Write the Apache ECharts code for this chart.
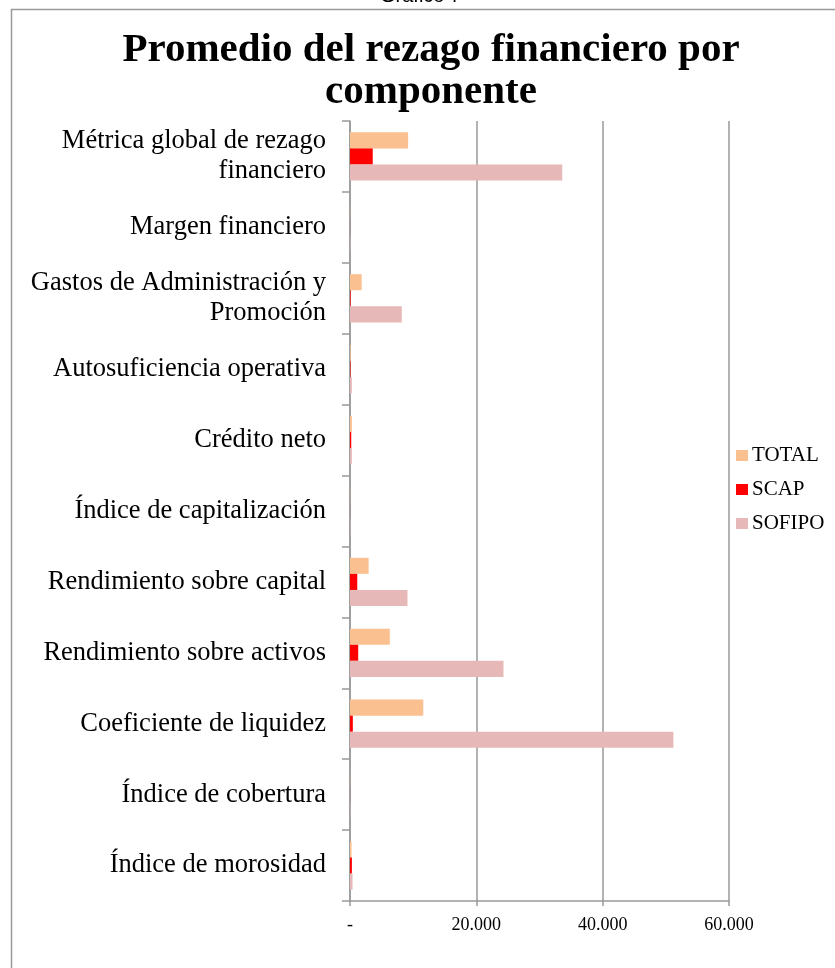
<!DOCTYPE html>
<html>
<head>
<meta charset="utf-8">
<script src="https://cdn.jsdelivr.net/npm/echarts@6/dist/echarts.min.js"></script>
<style>
html,body{margin:0;padding:0;background:#fff;}
#chart{width:835px;height:968px;}
</style>
</head>
<body>
<div id="chart"></div>
<script>
const categories = [
  "Métrica global de rezago\nfinanciero",
  "Margen financiero",
  "Gastos de Administración y\nPromoción",
  "Autosuficiencia operativa",
  "Crédito neto",
  "Índice de capitalización",
  "Rendimiento sobre capital",
  "Rendimiento sobre activos",
  "Coeficiente de liquidez",
  "Índice de cobertura",
  "Índice de morosidad"
];
const totalValues  = [9200, 20, 1850, 100, 300, 20, 2950, 6300, 11600, 20, 250];
const scapValues   = [3600, 10, 100, 80, 200, 10, 1150, 1300, 450, 10, 300];
const sofipoValues = [33600, 60, 8200, 300, 300, 50, 9100, 24300, 51200, 50, 400];
const xTicks = {0: "-", 20000: "20.000", 40000: "40.000", 60000: "60.000"};

const serif = "'Liberation Serif', 'DejaVu Serif', serif";
const chart = echarts.init(document.getElementById('chart'));
chart.setOption({
  backgroundColor: '#fff',
  animation: false,
  title: {
    text: 'Promedio del rezago financiero por\ncomponente',
    left: 426,
    textAlign: 'center',
    top: 24,
    textStyle: {fontFamily: serif, fontWeight: 'bold', fontSize: 41, lineHeight: 42, color: '#000'}
  },
  graphic: [
    {type: 'line', shape: {x1: 11, y1: 9.5, x2: 835, y2: 9.5}, style: {stroke: '#999', lineWidth: 1.5}},
    {type: 'line', shape: {x1: 11.5, y1: 9, x2: 11.5, y2: 968}, style: {stroke: '#999', lineWidth: 1.5}},
    {type: 'text', left: 380, top: -14, style: {text: 'Gráfico 7', font: "20px 'Liberation Sans', sans-serif", fill: '#000'}}
  ],
  legend: {
    orient: 'vertical',
    left: 731,
    top: 440,
    itemWidth: 12,
    itemHeight: 11,
    itemGap: 13,
    icon: 'rect',
    textStyle: {fontFamily: serif, fontSize: 21, color: '#000', padding: [0, 0, 0, -1]},
    data: ['TOTAL', 'SCAP', 'SOFIPO']
  },
  grid: {left: 350, right: 106, top: 121, bottom: 67, containLabel: false},
  xAxis: {
    type: 'value',
    min: 0, max: 60000, interval: 20000,
    axisLine: {show: true, lineStyle: {color: '#999', width: 1.5}},
    axisTick: {show: true, length: 5, lineStyle: {color: '#999', width: 1.5}},
    splitLine: {show: true, lineStyle: {color: '#999', width: 1.5}},
    axisLabel: {
      margin: 15,
      fontFamily: serif, fontSize: 18, color: '#000',
      formatter: v => xTicks[v] !== undefined ? xTicks[v] : ''
    }
  },
  yAxis: {
    type: 'category',
    inverse: true,
    data: categories,
    axisLine: {show: true, lineStyle: {color: '#999', width: 1.5}},
    axisTick: {show: true, length: 8, lineStyle: {color: '#999', width: 1.5}},
    axisLabel: {
      margin: 24,
      fontFamily: serif, fontSize: 26.5, lineHeight: 30, color: '#000', align: 'right'
    }
  },
  series: [
    {name: 'TOTAL', type: 'bar', data: totalValues, itemStyle: {color: '#FAC090'}, barGap: '0%', barCategoryGap: '32%'},
    {name: 'SCAP', type: 'bar', data: scapValues, itemStyle: {color: '#FF0000'}, barGap: '0%', barCategoryGap: '32%'},
    {name: 'SOFIPO', type: 'bar', data: sofipoValues, itemStyle: {color: '#E6B9B8'}, barGap: '0%', barCategoryGap: '32%'}
  ]
});
</script>
</body>
</html>
